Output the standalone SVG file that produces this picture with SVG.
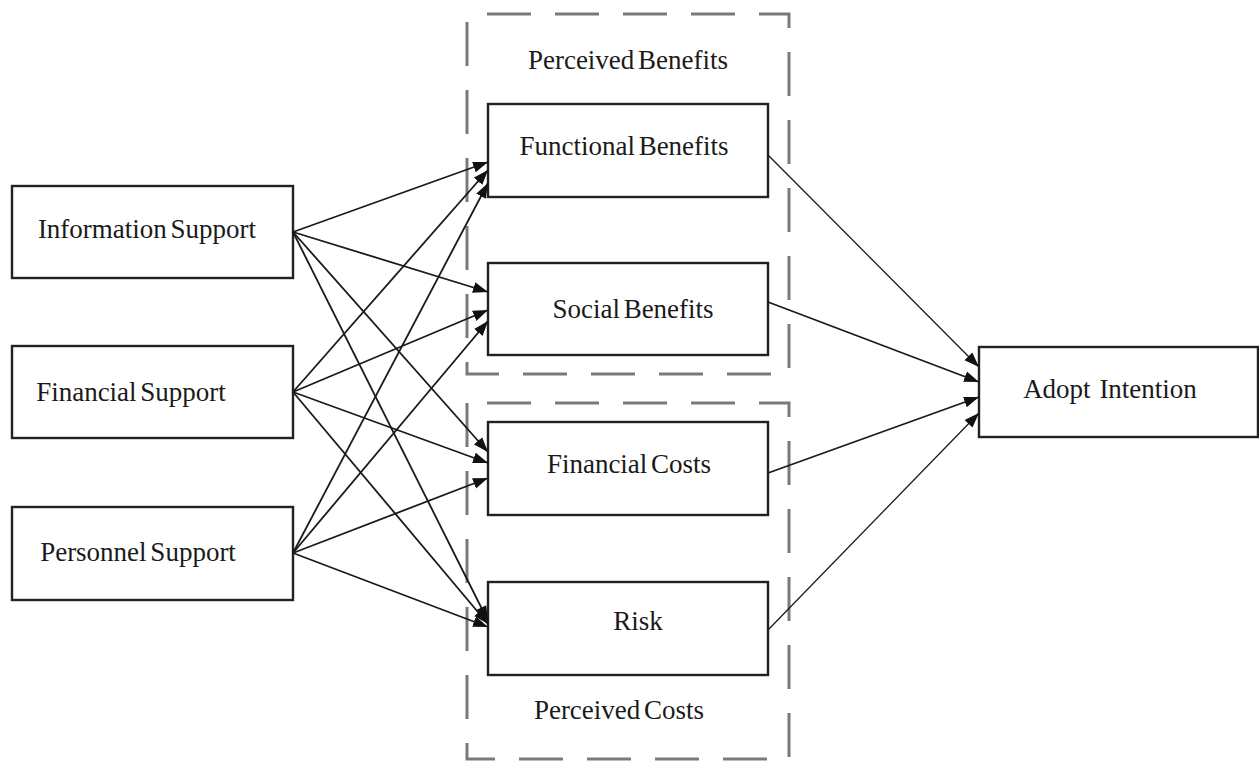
<svg xmlns="http://www.w3.org/2000/svg" width="1259" height="761" viewBox="0 0 1259 761">
<style>
.box{fill:#fff;stroke:#222;stroke-width:2.4}
.grp{fill:none;stroke:#7a7a7a;stroke-width:3;stroke-dasharray:44 24;stroke-dashoffset:48}
.lbl{font-family:"Liberation Serif","Times New Roman",serif;font-size:27px;fill:#1a1a1a;text-anchor:middle;word-spacing:-3px}
.edge{stroke:#1a1a1a;stroke-width:1.8;fill:none;marker-end:url(#ah)}
.thin{stroke-width:1.3}
</style>
<defs>
<marker id="ah" markerUnits="userSpaceOnUse" markerWidth="16" markerHeight="12" refX="15" refY="6" orient="auto">
<path d="M0,0.5 L15,6 L0,11.5 Z" fill="#111"/>
</marker>
</defs>
<rect width="1259" height="761" fill="#fff"/>
<g id="group-benefits">
<rect class="grp" x="467" y="14" width="322" height="360"/>
<text class="lbl" x="628" y="69">Perceived Benefits</text>
</g>
<g id="group-costs">
<rect class="grp" x="467" y="403" width="322" height="356"/>
<text class="lbl" x="619" y="719">Perceived Costs</text>
</g>
<g id="info">
<rect class="box" x="12" y="186" width="281" height="92"/>
<text class="lbl" x="147" y="238">Information Support</text>
</g>
<g id="financial">
<rect class="box" x="12" y="346" width="281" height="92"/>
<text class="lbl" x="131" y="401">Financial Support</text>
</g>
<g id="personnel">
<rect class="box" x="12" y="507" width="281" height="93"/>
<text class="lbl" x="138" y="561">Personnel Support</text>
</g>
<g id="functional">
<rect class="box" x="488" y="104" width="280" height="93"/>
<text class="lbl" x="624" y="155">Functional Benefits</text>
</g>
<g id="social">
<rect class="box" x="488" y="263" width="280" height="92"/>
<text class="lbl" x="633" y="318">Social Benefits</text>
</g>
<g id="fincosts">
<rect class="box" x="488" y="422" width="280" height="93"/>
<text class="lbl" x="629" y="473">Financial Costs</text>
</g>
<g id="risk">
<rect class="box" x="488" y="582" width="280" height="93"/>
<text class="lbl" x="638" y="630">Risk</text>
</g>
<g id="adopt">
<rect class="box" x="979" y="347" width="279" height="90"/>
<text class="lbl" x="1110" y="398" style="word-spacing:2px">Adopt Intention</text>
</g>
<g id="connectors">
<line class="edge" x1="293" y1="232" x2="488" y2="162"/>
<line class="edge" x1="293" y1="232" x2="488" y2="292"/>
<line class="edge" x1="293" y1="232" x2="488" y2="452"/>
<line class="edge" x1="293" y1="232" x2="488" y2="621"/>
<line class="edge" x1="293" y1="392" x2="488" y2="170"/>
<line class="edge" x1="293" y1="392" x2="488" y2="310"/>
<line class="edge" x1="293" y1="392" x2="488" y2="463"/>
<line class="edge" x1="293" y1="392" x2="488" y2="624"/>
<line class="edge" x1="293" y1="553" x2="488" y2="183"/>
<line class="edge" x1="293" y1="553" x2="488" y2="321"/>
<line class="edge" x1="293" y1="553" x2="488" y2="478"/>
<line class="edge" x1="293" y1="553" x2="488" y2="627"/>
<line class="edge thin" x1="768" y1="155" x2="979" y2="367"/>
<line class="edge" x1="768" y1="302" x2="979" y2="382"/>
<line class="edge" x1="768" y1="473" x2="979" y2="397"/>
<line class="edge thin" x1="768" y1="630" x2="979" y2="413"/>
</g>
</svg>
